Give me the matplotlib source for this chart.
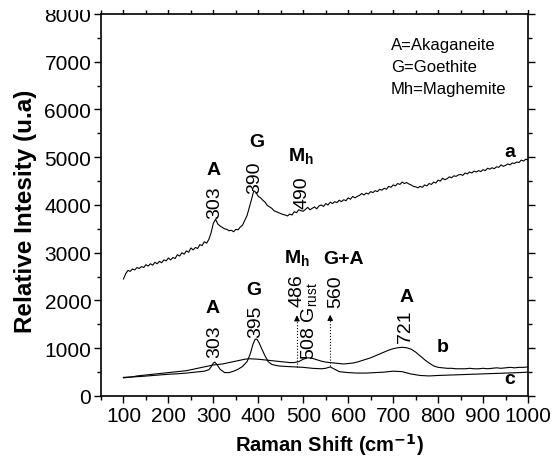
import numpy as np
import matplotlib
matplotlib.use("Agg")
import matplotlib.pyplot as plt
from matplotlib.ticker import MultipleLocator
from matplotlib.patches import Rectangle

plt.rcParams['font.family'] = ['Liberation Sans', 'DejaVu Sans']

# spectrum a (upper trace), sampled every 5 cm-1 from 100 to 1000
a_x = np.arange(100, 1001, 5)
a_y = [2450, 2560, 2630, 2610, 2660, 2640, 2690, 2670, 2710, 2690,
       2750, 2720, 2770, 2740, 2800, 2770, 2820, 2790, 2850, 2830,
       2890, 2850, 2900, 2880, 2960, 2930, 3000, 2970, 3040, 3010,
       3100, 3060, 3110, 3090, 3170, 3150, 3230, 3200, 3280, 3420,
       3620, 3700, 3600, 3560, 3530, 3500, 3490, 3460, 3470, 3440,
       3490, 3480, 3540, 3580, 3680, 3780, 3950, 4120, 4300, 4260,
       4180, 4150, 4100, 4060, 3990, 3960, 3930, 3880, 3860, 3840,
       3820, 3800, 3790, 3770, 3810, 3790, 3860, 3840, 3900, 3880,
       3870, 3910, 3950, 3900, 3930, 3960, 3920, 3980, 4000, 3970,
       4030, 4000, 4060, 4030, 4070, 4050, 4100, 4070, 4110, 4090,
       4150, 4120, 4180, 4150, 4180, 4200, 4240, 4210, 4250, 4230,
       4280, 4260, 4300, 4280, 4330, 4310, 4350, 4330, 4390, 4370,
       4420, 4400, 4450, 4430, 4480, 4450, 4470, 4440, 4420, 4390,
       4380, 4360, 4390, 4370, 4420, 4400, 4450, 4430, 4480, 4460,
       4520, 4500, 4560, 4530, 4550, 4590, 4570, 4610, 4600, 4630,
       4640, 4620, 4670, 4650, 4690, 4670, 4710, 4690, 4720, 4700,
       4740, 4720, 4770, 4750, 4780, 4760, 4800, 4790, 4840, 4810,
       4830, 4860, 4840, 4880, 4870, 4900, 4890, 4940, 4920, 4960,
       4940]

# spectrum b (broad trace with 508 and 721 bands), every 10 cm-1
b_x = np.arange(100, 1001, 10)
b_y = [380, 390, 400, 420, 430, 440, 450, 460, 470, 480,
       490, 500, 510, 520, 530, 550, 570, 590, 610, 630,
       650, 660, 670, 690, 710, 730, 750, 770, 780, 775,
       770, 760, 750, 740, 730, 720, 710, 700, 700, 720,
       770, 800, 790, 760, 730, 710, 700, 690, 680, 670,
       680, 690, 710, 740, 770, 800, 840, 880, 920, 960,
       990, 1010, 1020, 1010, 980, 920, 840, 760, 690, 630,
       600, 590, 580, 580, 570, 570, 570, 580, 570, 570,
       580, 570, 580, 590, 580, 590, 600, 590, 600, 600,
       610]

# spectrum c (303, 395, 560 bands)
c_x = [100, 120, 140, 160, 180, 200, 220, 240, 260, 280, 290, 295, 300, 303,
       308, 315, 325, 335, 345, 355, 365, 375, 382, 388, 393, 397, 402, 408,
       415, 422, 430, 445, 460, 480, 500, 520, 540, 550, 560, 570, 580, 600,
       620, 640, 660, 680, 700, 720, 740, 760, 780, 800, 830, 860, 890, 920,
       950, 980, 1000]
c_y = [390, 400, 410, 425, 440, 455, 465, 480, 500, 520, 550, 610, 690, 710,
       660, 560, 490, 490, 520, 560, 620, 720, 880, 1080, 1190, 1190, 1110, 980,
       840, 720, 660, 630, 620, 610, 600, 580, 570, 580, 610, 560, 510, 490,
       480, 480, 490, 500, 520, 510, 460, 430, 420, 430, 440, 450, 460, 470,
       480, 490, 500]

legend_lines = ['A=Akaganeite', 'G=Goethite', 'Mh=Maghemite']

fig = plt.figure(figsize=(5.53, 4.64), dpi=100)
ax = fig.add_axes([0.1826, 0.1444, 0.7722, 0.8233])

ax.plot(a_x, a_y, color='black', lw=0.8)
ax.plot(b_x, b_y, color='black', lw=0.8)
ax.plot(c_x, c_y, color='black', lw=0.8)

ax.set_xlim(50, 1000)
ax.set_ylim(0, 8000)
ax.xaxis.set_major_locator(MultipleLocator(100))
ax.xaxis.set_minor_locator(MultipleLocator(50))
ax.yaxis.set_major_locator(MultipleLocator(1000))
ax.yaxis.set_minor_locator(MultipleLocator(500))
ax.tick_params(which='both', direction='out', top=True, right=True, labelsize=15, width=1)
ax.tick_params(which='major', length=5, pad=2)
ax.tick_params(which='minor', length=3)
for s in ax.spines.values():
    s.set_linewidth(1.2)

ax.set_xlabel('Raman Shift (cm$^{\\mathbf{-1}}$)', fontsize=14.5, fontweight='bold')
ax.set_ylabel('Relative Intesity (u.a)', fontsize=17.5, fontweight='bold')
ax.xaxis.set_label_coords(0.536, -0.092)
ax.yaxis.set_label_coords(-0.15, 0.487)

# legend-like text
for i, t in enumerate(legend_lines):
    ax.text(695, 7370 - i * 460, t, fontsize=12, va='center', ha='left')

lab = dict(fontsize=14, fontweight='bold', ha='center', va='center')
num = dict(fontsize=14, rotation=90, ha='center', va='center')

# spectrum a labels
ax.text(300, 4750, 'A', **lab)
ax.text(303, 4060, '303', **num)
ax.text(397, 5320, 'G', **lab)
ax.text(393, 4590, '390', **num)
ax.text(494, 5030, 'M$_\\mathregular{h}$', **lab)
ax.text(498, 4270, '490', **num)
ax.text(960, 5130, 'a', **lab)

# spectra b and c labels
ax.text(299, 1860, 'A', **lab)
ax.text(303, 1150, '303', **num)
ax.text(389, 2240, 'G', **lab)
ax.text(395, 1570, '395', **num)
ax.text(487, 2900, 'M$_\\mathregular{h}$', **lab)
ax.text(485, 2230, '486', **num)
ax.text(514, 1600, '508 G$_\\mathregular{rust}$', **num)
ax.text(590, 2870, 'G+A', **lab)
ax.text(572, 2200, '560', **num)
ax.text(729, 2094, 'A', **lab)
ax.text(727, 1466, '721', **num)
ax.text(811, 1047, 'b', **lab)
ax.text(960, 356, 'c', **lab)

# dotted arrows
for xa, y0, y1 in [(486, 600, 1750), (560, 620, 1760)]:
    ax.plot([xa, xa], [y0, y1 - 150], color='black', lw=0.8, ls=':')
    ax.annotate('', xy=(xa, y1), xytext=(xa, y1 - 200),
                arrowprops=dict(arrowstyle='-|>', color='black', lw=0.8,
                                mutation_scale=8))

# the source image is cut just above the plot frame
fig.patches.append(Rectangle((0, 1 - 11 / 464), 1, 11 / 464, transform=fig.transFigure,
                             facecolor='white', edgecolor='none', zorder=10))

fig.savefig('out.png', dpi=100)
